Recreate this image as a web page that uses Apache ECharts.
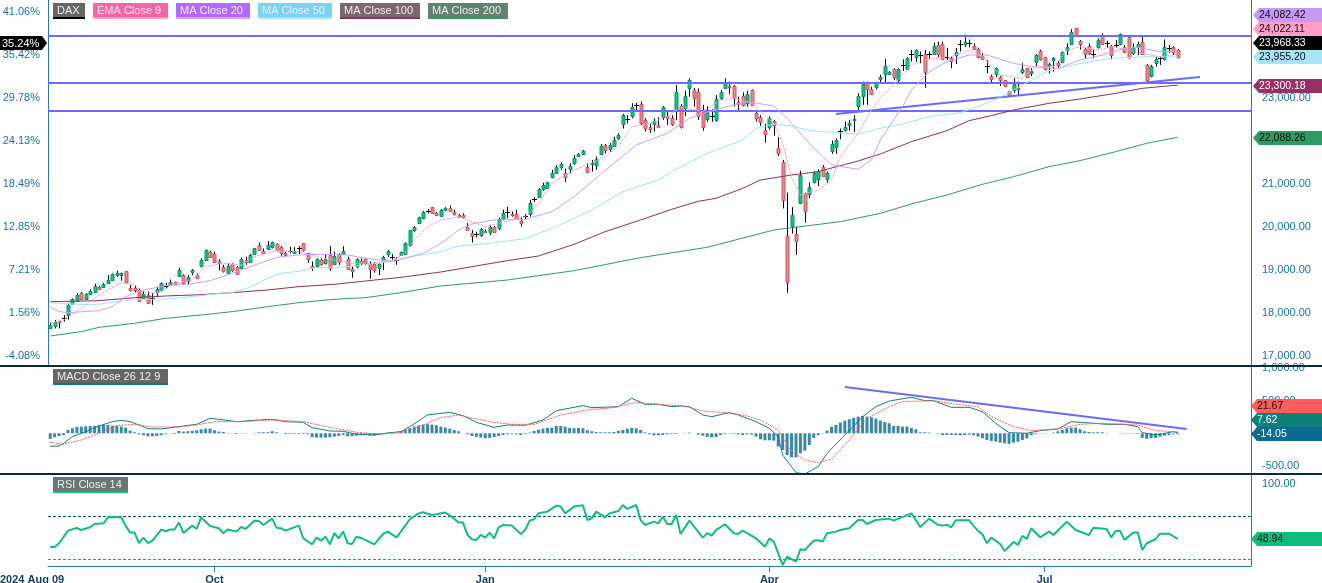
<!DOCTYPE html>
<html>
<head>
<meta charset="utf-8">
<title>DAX</title>
<style>html,body{margin:0;padding:0;background:#fff}#main{width:1322px;height:583px}</style>
<script src="https://cdn.jsdelivr.net/npm/echarts@6/dist/echarts.min.js"></script>
</head>
<body>
<div id="main"></div>
<script>
// open, close, low, high
var candles = [
[17660,17720,17640,17780],[17700,17790,17640,17840],[17810,17780,17640,17820],[17870,17880,17800,17950],[17950,18190,17850,18220],
[18220,18330,18210,18340],[18280,18420,18260,18460],[18470,18330,18320,18490],[18330,18440,18320,18460],[18440,18500,18430,18550],
[18500,18630,18480,18680],[18610,18570,18530,18630],[18610,18670,18590,18700],[18710,18770,18690,18880],[18770,18910,18750,18920],
[18880,18920,18840,18980],[18880,18920,18750,18940],[18970,18710,18700,18980],[18570,18520,18500,18650],[18570,18520,18470,18650],
[18530,18280,18260,18570],[18340,18440,18320,18500],[18420,18240,18210,18500],[18360,18350,18190,18460],[18480,18550,18380,18610],
[18520,18690,18500,18710],[18630,18620,18570,18700],[18650,18720,18630,18780],[18710,18670,18650,18730],[18860,19000,18840,19050],
[18880,18690,18670,18900],[18730,18830,18650,18880],[18950,18990,18880,19020],[18890,18820,18800,18920],[19080,19230,19060,19270],
[19230,19460,19210,19480],[19420,19310,19290,19450],[19370,19190,19160,19430],[19200,19150,18990,19250],[19080,18980,18940,19120],
[18940,19100,18920,19160],[19130,19000,18960,19160],[19080,18920,18900,19090],[19050,19250,19040,19290],[19230,19190,19120,19310],
[19190,19360,19170,19370],[19370,19500,19360,19510],[19580,19460,19450,19640],[19450,19400,19370,19500],[19490,19580,19470,19670],
[19520,19640,19500,19660],[19600,19450,19430,19620],[19530,19390,19330,19560],[19400,19350,19320,19430],[19430,19450,19390,19540],
[19400,19450,19370,19530],[19500,19510,19370,19560],[19620,19450,19430,19620],[19390,19250,19170,19400],[19090,19050,18980,19200],
[19080,19250,19060,19270],[19230,19130,19100,19270],[19150,19250,19130,19350],[19350,19040,18980,19560],[19140,19330,19120,19430],
[19370,19190,19120,19390],[19370,19430,19350,19550],[19250,19020,19000,19310],[19020,18980,18820,19080],[19080,19250,19040,19270],
[19200,19150,19120,19270],[19250,19150,19120,19270],[19140,19030,18800,19200],[19130,19000,18940,19180],[19030,19130,18880,19160],
[19220,19310,19000,19330],[19370,19450,19300,19470],[19290,19300,19220,19370],[19250,19240,19120,19300],[19360,19420,19340,19430],
[19370,19620,19350,19640],[19570,19920,19540,19930],[19920,20000,19890,20020],[20090,20230,20070,20240],[20200,20350,20180,20370],
[20370,20380,20310,20420],[20460,20330,20320,20470],[20320,20270,20260,20350],[20270,20400,20260,20420],[20400,20440,20380,20460],
[20440,20380,20360,20500],[20340,20290,20270,20400],[20270,20230,20210,20300],[20270,20230,20210,20320],[20010,19950,19930,20090],
[19870,19810,19640,19930],[19830,19840,19760,19890],[19820,19960,19770,19980],[19910,19880,19860,19940],[19890,20010,19810,20050],
[20010,19890,19880,20020],[19970,20190,19930,20220],[20190,20320,20160,20400],[20330,20340,20200,20470],[20300,20270,20240,20360],
[20300,20190,20160,20400],[20150,20100,20010,20240],[20240,20250,20180,20300],[20290,20550,20240,20630],[20640,20650,20580,20690],
[20700,20890,20690,20900],[20880,20970,20840,21030],[20910,21040,20890,21050],[21150,21250,21130,21330],[21260,21390,21230,21440],
[21380,21460,21330,21500],[21260,21170,21050,21360],[21360,21420,21250,21480],[21500,21610,21440,21670],[21660,21700,21640,21720],
[21700,21760,21670,21790],[21400,21290,21250,21480],[21460,21490,21290,21560],[21420,21570,21330,21640],[21700,21880,21670,21930],
[21900,21780,21710,21930],[21810,21900,21750,21950],[21890,22020,21870,22100],[22050,22130,22020,22180],[22380,22600,22290,22630],
[22500,22510,22410,22600],[22570,22780,22530,22880],[22820,22840,22720,22890],[22850,22410,22370,22920],[22480,22290,22220,22530],
[22320,22280,22190,22400],[22400,22460,22220,22530],[22380,22330,22300,22550],[22550,22780,22490,22810],[22570,22530,22370,22680],
[22530,22390,22350,22600],[22680,23130,22490,23300],[22820,22330,22290,22860],[22780,23050,22580,23170],[23230,23410,23030,23460],
[23180,22990,22800,23230],[23150,22600,22490,23220],[22680,22320,22240,22840],[22500,22670,22450,22800],[22560,22570,22450,22740],
[22470,22970,22450,23070],[22980,23130,22950,23190],[23240,23380,23220,23460],[23280,23250,23090,23380],[23270,22990,22800,23300],
[22910,22870,22700,23030],[23050,22830,22800,23130],[22890,23090,22800,23170],[23180,22830,22810,23200],[22660,22550,22450,22720],
[22550,22430,22350,22600],[22250,22160,21960,22400],[22320,22530,22260,22570],[22460,22370,22120,22490],[21830,21710,21650,22090],
[21520,20630,20430,21560],[19790,18730,18470,20800],[20010,20270,19850,20460],[19830,19670,19350,20010],[20550,21200,20530,21310],
[20780,20360,20100,20800],[20780,20940,20670,21040],[21050,21260,21010,21300],[21110,21300,20950,21340],[21400,21200,21190,21440],
[21130,21260,21030,21290],[21780,21940,21700,22010],[21870,22030,21700,22060],[22220,22230,22040,22290],[22250,22320,22220,22450],
[22360,22410,22240,22490],[22480,22510,22210,22600],[22810,23050,22720,23110],[23040,23330,22840,23380],[23360,23220,22840,23380],
[23220,23100,23070,23260],[23250,23340,23200,23380],[23450,23490,23340,23540],[23550,23740,23340,23910],[23570,23610,23560,23630],
[23670,23480,23420,23690],[23410,23670,23330,23690],[23750,23770,23630,23900],[23670,23920,23670,23950],[24020,24030,23850,24120],
[23950,24120,23840,24130],[24000,23990,23810,24080],[24020,23610,23240,24120],[24020,24030,23900,24080],[24020,24210,24000,24290],
[24230,24020,23950,24310],[24250,23910,23900,24310],[23960,23950,23880,24160],[23920,23840,23690,23960],[24000,24080,23790,24160],
[24250,24260,24080,24350],[24260,24300,24190,24470],[24300,24290,24180,24360],[24220,24150,24120,24270],[24140,23960,23920,24170],
[23980,23920,23900,24040],[23750,23740,23570,23880],[23510,23430,23330,23540],[23560,23690,23480,23710],[23480,23400,23280,23510],
[23410,23280,23250,23420],[23160,23040,23020,23170],[23180,23330,23120,23460],[23240,23210,23050,23380],[23610,23670,23560,23810],
[23690,23480,23460,23700],[23590,23630,23510,23690],[23850,24010,23740,24020],[24090,23900,23870,24120],[23950,23670,23640,23960],
[23750,23790,23570,23820],[23870,23920,23610,23950],[23810,23760,23690,23850],[23830,24060,23810,24080],[24120,24190,24000,24270],
[24260,24530,24230,24600],[24620,24460,24440,24620],[24330,24250,24130,24350],[24130,24020,23920,24160],[24200,24040,24000,24270],
[24020,24030,23920,24120],[24190,24350,24150,24390],[24470,24270,24250,24500],[24290,24280,24160,24330],[24220,24020,23900,24230],
[24250,24240,24160,24350],[24260,24490,24250,24500],[24190,24080,24040,24230],[24410,23950,23910,24440],[24040,24190,24000,24270],
[24180,24260,24000,24310],[24310,24020,24000,24430],[23760,23400,23360,23790],[23500,23740,23480,23770],[23820,23910,23730,23960],
[23920,23930,23770,23960],[23910,24180,23870,24360],[24150,24160,24050,24230],[24180,24060,24000,24210],[24120,23968,23920,24140]
];

// [candle number, value]
var ema9 = [[0,17760],[3,17837],[7,18108],[11,18418],[16,18705],[19,18651],[21,18496],[24,18457],[28,18690],[32,18767],[35,19077],[39,19155],[43,19116],[46,19310],[51,19449],[56,19426],[60,19310],[64,19232],[68,19155],[74,19155],[77,19209],[80,19387],[82,19697],[85,20008],[88,20163],[92,20240],[95,20124],[98,20008],[101,20085],[107,20240],[110,20550],[113,21015],[118,21326],[121,21442],[125,21636],[128,21868],[131,22333],[135,22411],[139,22566],[142,22798],[147,22682],[151,22953],[154,22992],[158,22876],[163,22411],[165,21946],[167,21170],[169,20744],[173,20860],[176,21093],[178,21636],[182,22178],[185,22721],[187,22992],[191,23419],[194,23767],[198,23922],[202,23922],[207,24116],[210,23961],[214,23535],[219,23457],[222,23729],[226,23729],[229,24116],[232,24194],[236,24116],[239,24194],[243,24116],[246,24039],[250,23961],[254,24022]];
var ma20 = [[0,18132],[2,18031],[4,18008],[11,18054],[14,18147],[17,18380],[20,18511],[26,18636],[31,18667],[36,18752],[40,18884],[45,19077],[51,19294],[56,19349],[61,19364],[67,19349],[71,19271],[77,19194],[80,19271],[84,19387],[88,19620],[92,19930],[95,20070],[100,20163],[107,20178],[113,20356],[118,20705],[122,21054],[127,21480],[132,21907],[139,22178],[144,22527],[147,22643],[152,22783],[157,22915],[163,22814],[166,22527],[171,21946],[176,21442],[182,21341],[185,21558],[187,22023],[192,22798],[194,23186],[198,23612],[202,23845],[207,23999],[211,23999],[217,23806],[221,23729],[227,23690],[232,23884],[237,23999],[242,24155],[245,24178],[250,24077],[254,24082]];
var ma50 = [[0,18240],[4,18209],[10,18193],[15,18263],[19,18318],[26,18325],[34,18403],[38,18457],[41,18473],[45,18597],[49,18806],[52,18922],[56,18969],[60,19054],[64,19054],[71,19116],[75,19194],[79,19271],[88,19426],[92,19558],[99,19620],[107,19729],[114,20008],[122,20395],[129,20822],[137,21093],[140,21287],[148,21713],[156,22023],[159,22294],[163,22395],[167,22349],[171,22240],[176,22201],[182,22163],[187,22294],[192,22395],[198,22566],[205,22659],[209,22798],[213,22969],[217,23186],[221,23419],[225,23636],[232,23806],[239,23922],[247,23961],[254,23955]];
var ma100 = [[0,18263],[11,18287],[19,18356],[26,18395],[34,18426],[41,18473],[49,18535],[56,18612],[64,18667],[71,18744],[79,18829],[88,18953],[95,19077],[103,19217],[110,19325],[118,19597],[125,19891],[133,20163],[140,20411],[146,20597],[150,20667],[156,20899],[160,21093],[167,21209],[173,21287],[178,21426],[182,21535],[187,21698],[194,21984],[202,22240],[207,22473],[212,22589],[217,22721],[225,22876],[232,22977],[240,23108],[246,23225],[254,23300]];
var ma200 = [[0,17465],[7,17566],[11,17666],[19,17760],[26,17876],[34,17953],[41,18031],[49,18147],[56,18240],[64,18318],[71,18356],[79,18473],[88,18628],[103,18767],[118,18984],[133,19287],[148,19527],[163,19930],[178,20124],[187,20318],[194,20535],[202,20744],[210,20992],[217,21170],[225,21403],[232,21543],[240,21752],[247,21946],[254,22088]];

var macdLine = [[0,-199],[2,-194],[3,-154],[5,-52],[8,25],[11,112],[14,178],[16,198],[18,178],[20,127],[22,71],[25,66],[29,102],[33,137],[36,229],[38,214],[42,178],[46,198],[50,214],[53,178],[57,168],[59,86],[63,35],[66,30],[69,-16],[73,-26],[76,5],[79,25],[81,102],[85,280],[90,321],[93,270],[96,168],[100,91],[103,127],[107,122],[111,204],[114,346],[120,423],[122,392],[128,407],[131,535],[134,443],[137,443],[140,407],[142,418],[144,407],[147,280],[149,254],[153,316],[155,280],[159,178],[162,76],[164,-52],[165,-332],[168,-602],[170,-623],[173,-510],[175,-307],[179,-26],[183,254],[186,407],[189,494],[194,550],[197,499],[199,499],[203,397],[207,397],[210,331],[213,153],[216,10],[220,0],[223,40],[227,66],[230,178],[235,153],[238,137],[242,137],[245,102],[246,10],[249,-26],[253,25],[254,8]];
var macdSignal = [[0,-138],[3,-169],[7,-103],[11,0],[15,117],[19,137],[23,96],[29,96],[33,127],[37,178],[43,178],[50,204],[57,178],[64,76],[69,15],[74,-11],[79,10],[84,127],[88,239],[92,280],[96,219],[100,168],[104,137],[109,137],[115,280],[121,356],[127,392],[132,474],[137,443],[143,413],[147,341],[152,316],[156,280],[160,204],[164,50],[167,-281],[170,-409],[173,-449],[176,-398],[180,-102],[184,229],[189,407],[192,484],[199,499],[204,443],[209,407],[212,254],[217,102],[221,40],[227,66],[232,137],[237,153],[245,127],[249,40],[254,22]];
var macdHist = [-87,-61,-41,-26,51,77,97,102,107,112,112,122,128,128,117,112,102,87,41,15,-15,-31,-46,-46,-41,-31,-10,-5,-10,36,26,31,36,46,61,71,71,46,26,20,5,-5,-10,-5,-5,0,5,15,15,15,31,15,0,-10,-10,-10,-10,-10,-15,-61,-66,-66,-66,-61,-51,-41,-26,-46,-46,-36,-26,-15,-36,-36,-26,-15,-5,-5,0,31,56,77,102,122,133,138,133,122,102,87,71,51,31,0,-15,-41,-56,-66,-77,-71,-56,-41,-26,-15,-10,-15,-26,-10,10,36,56,71,82,87,112,112,102,82,77,82,77,46,31,20,15,15,15,20,36,51,71,82,77,51,15,-15,-31,-31,-26,-15,-10,-10,0,5,10,0,-20,-36,-56,-61,-56,-26,-10,-5,-10,-15,-26,-15,-20,-51,-92,-107,-107,-112,-204,-255,-332,-367,-367,-306,-265,-179,-71,-26,5,41,102,128,163,194,214,235,255,265,255,245,224,194,173,153,112,112,102,102,82,61,15,15,10,0,-5,-26,-26,-26,-26,-31,-26,-20,-31,-51,-77,-102,-117,-128,-143,-153,-163,-143,-128,-102,-77,-31,-10,-5,-5,0,10,31,51,77,87,87,61,31,20,15,15,15,5,0,0,-5,-5,-5,-5,-10,-71,-82,-77,-71,-51,-36,-26,-15,-14];

var rsi = [[0,41.4],[1,41.4],[2,44.9],[4,56.6],[6,59.1],[7,57.2],[9,59.7],[10,62.8],[12,63.4],[13,69],[16,69],[17,61],[18,54.8],[19,54.8],[20,44.9],[21,50.1],[22,44.9],[23,47],[25,57.6],[26,56],[27,57.6],[28,57.6],[29,64.1],[30,54.5],[32,61.3],[33,58.2],[34,69],[36,61],[38,58.8],[39,54.2],[40,57.6],[42,55.7],[43,60],[44,58.2],[46,65.9],[47,65.6],[48,61.9],[50,67.8],[51,59.4],[52,58.8],[53,56.6],[56,61.3],[57,49.5],[59,43.9],[60,50.1],[61,47.3],[62,51],[63,43.9],[64,54.2],[65,49.5],[66,55.7],[67,44.9],[68,44.2],[69,51],[70,49.8],[73,43.9],[75,53.5],[76,55.7],[78,50.4],[79,55.7],[81,67.2],[83,72.7],[84,73.7],[86,71.2],[87,71.8],[89,73.4],[90,70.9],[92,64.1],[93,64.1],[94,52.6],[95,48.6],[96,48],[97,52.6],[98,50.1],[99,54.8],[100,49.5],[101,59.4],[102,61.9],[104,61.3],[106,53.5],[107,57.2],[108,65.9],[109,67.2],[110,72.7],[112,74.3],[114,79.9],[115,79],[116,72.7],[118,79],[120,80.2],[121,66.5],[122,68.1],[123,74.3],[125,69],[126,72.7],[128,74.9],[129,80.5],[130,76.8],[132,80.5],[133,66.5],[134,61.9],[136,65],[137,63.4],[138,69.6],[139,62.8],[140,62.8],[141,71.2],[142,53.5],[144,65.9],[147,50.1],[148,54.2],[149,52],[150,57.2],[152,62.5],[154,54.2],[155,53.5],[156,56.6],[159,49.5],[161,41.7],[162,49.2],[163,46.4],[165,24.7],[166,32.4],[168,27.8],[169,39.3],[170,38.6],[172,47.3],[173,47.6],[174,46.4],[175,54.2],[177,55.7],[178,57.2],[180,58.8],[182,66.5],[183,66.5],[184,62.8],[186,66.5],[189,67.8],[190,65.9],[194,72.7],[196,60],[198,67.8],[200,61.9],[201,61.3],[202,62.2],[203,59.7],[204,66.2],[207,66.2],[209,56.3],[210,53.2],[211,44.9],[212,50.1],[214,44.2],[215,37.7],[217,46.1],[218,43.3],[219,51.7],[220,48.9],[221,58.8],[223,50.4],[225,55.7],[226,52.6],[229,65],[231,57.2],[234,52.6],[235,59.4],[238,58.2],[239,50.4],[240,56.3],[241,56.6],[242,48],[244,54.8],[245,54.8],[246,38.6],[247,44.9],[249,48.6],[250,53.8],[252,53.8],[254,48.94]];

var levels = [24442, 23349, 22698];
var priceTrend = [[177,22628],[259,23488]];
var macdTrend = [[179,709],[256,67]];
var rsiBands = [70, 30];

var priceTicks = [17000,18000,19000,20000,21000,22000,23000,24000];
var pctTicks = [-4.08,1.56,7.21,12.85,18.49,24.13,29.78,35.42,41.06];
var macdTicks = [-500,0,500,1000];
var rsiTicks = [100];
var tickIndex = [37,98,162,224];
var tickNames = ['Oct','Jan','Apr','Jul'];
var firstDate = '2024 Aug 09';

var categories = [];
for (var n = 0; n < 271; n++) categories.push(n);

var labelBlue = '#1d6f9e';
var axisBlue = '#2b7ba3';
var levelBlue = '#6b6bf5';

var myChart = echarts.init(document.getElementById('main'));

function money(v) {
    return v.toLocaleString('en-US', {minimumFractionDigits: 2, maximumFractionDigits: 2});
}

// black wicks are not possible with the candlestick type, so draw it here
function renderCandle(params, api) {
    var i = api.value(0), o = api.value(1), c = api.value(2);
    var x = Math.round(api.coord([i, o])[0]) + 0.5;
    var yo = api.coord([i, o])[1], yc = api.coord([i, c])[1];
    var yl = api.coord([i, api.value(3)])[1], yh = api.coord([i, api.value(4)])[1];
    var kids = [{
        type: 'line',
        shape: {x1: x, y1: yh, x2: x, y2: yl},
        style: {stroke: '#000', lineWidth: 1}
    }];
    if (Math.abs(o - c) <= 20) {
        var my = Math.round(yc) + 0.5;
        kids.push({
            type: 'line',
            shape: {x1: x - 2.5, y1: my, x2: x + 2.5, y2: my},
            style: {stroke: '#000', lineWidth: 1}
        });
    } else {
        var up = c > o;
        kids.push({
            type: 'rect',
            shape: {x: x - 1.5, y: Math.round(Math.min(yo, yc)) + 0.5, width: 3, height: Math.max(1, Math.round(Math.abs(yo - yc)))},
            style: {fill: up ? '#14c48c' : '#e58a8a', stroke: up ? '#0b8f6a' : '#c9585c', lineWidth: 1}
        });
    }
    return {type: 'group', children: kids};
}

function tag(x, y, w, text, fill, color) {
    return [{
        type: 'polygon', z: 100,
        shape: {points: [[x, y], [x + 6, y - 7], [x + w, y - 7], [x + w, y + 7], [x + 6, y + 7]]},
        style: {fill: fill}
    }, {
        type: 'text', z: 101, x: x + 6, y: y - 6,
        style: {text: text, fill: color, font: '10.5px "Liberation Sans"', lineHeight: 13}
    }];
}

function chip(x, y, w, text, bg, bar) {
    return [{
        type: 'rect', z: 100,
        shape: {x: x, y: y, width: w, height: 14},
        style: {fill: bg}
    }, {
        type: 'rect', z: 100,
        shape: {x: x, y: y + 14, width: w, height: 2},
        style: {fill: bar}
    }, {
        type: 'text', z: 101, x: x + 4, y: y + 2,
        style: {text: text, fill: '#eee', font: '11px "Liberation Sans"'}
    }];
}

var graphics = [].concat(
    chip(53, 3, 32, 'DAX', '#666666', '#000000'),
    chip(93, 3, 75, 'EMA Close 9', '#fb62a8', '#ffa0c8'),
    chip(176, 3, 74, 'MA Close 20', '#b468ff', '#cfa4ff'),
    chip(258, 3, 74, 'MA Close 50', '#78d4f2', '#a8e6f8'),
    chip(340, 3, 80, 'MA Close 100', '#7a686e', '#8f2f5f'),
    chip(428, 3, 80, 'MA Close 200', '#64806f', '#2f9a64'),
    chip(53, 369, 115, 'MACD Close 26 12 9', '#666666', '#0a7a7a'),
    chip(53, 477, 75, 'RSI Close 14', '#66786f', '#10bd7e'),
    tag(1253, 15, 69, '24,082.42', '#c49af5', '#111'),
    tag(1253, 29, 69, '24,022.11', '#ff9ec8', '#111'),
    tag(1253, 43, 69, '23,968.33', '#000000', '#fff'),
    tag(1253, 57, 69, '23,955.20', '#a8e4f8', '#111'),
    tag(1253, 86, 69, '23,300.18', '#973063', '#fff'),
    tag(1253, 138, 69, '22,088.26', '#2f9a64', '#111'),
    tag(1251, 406, 71, '21.67', '#ff5c5c', '#111'),
    tag(1251, 420, 71, '7.62', '#0f7f7a', '#fff'),
    tag(1251, 434, 71, '-14.05', '#0a6a8f', '#fff'),
    tag(1251, 539, 71, '48.94', '#10bd7e', '#111'),
    [{
        type: 'polygon', z: 100,
        shape: {points: [[0, 36], [42, 36], [47, 43], [42, 50], [0, 50]]},
        style: {fill: '#000'}
    }, {
        type: 'text', z: 101, x: 2, y: 37,
        style: {text: '35.24%', fill: '#fff', font: '11px "Liberation Sans"', lineHeight: 13}
    }, {
        type: 'rect', z: 102,
        shape: {x: 0, y: 365, width: 1322, height: 2},
        style: {fill: '#0a2a3a'}
    }, {
        type: 'rect', z: 102,
        shape: {x: 0, y: 473, width: 1322, height: 2},
        style: {fill: '#0a2a3a'}
    }, {
        type: 'text', z: 101, x: 0, y: 574,
        style: {text: firstDate, fill: '#123f5f', font: 'bold 11px "Liberation Sans"'}
    }]
);

function priceAxis(grid, pos, min, max, ticks, fmt) {
    return {
        type: 'value', gridIndex: grid, position: pos, min: min, max: max, scale: true,
        splitLine: {show: false},
        axisLine: {show: true, onZero: false, lineStyle: {color: axisBlue}},
        axisTick: {show: false},
        axisLabel: {
            customValues: ticks, formatter: fmt, color: labelBlue,
            fontFamily: 'Liberation Sans', fontSize: 11, margin: pos == 'right' ? 11 : 8,
            padding: [4, 0, 0, 0], showMinLabel: true, showMaxLabel: true
        }
    };
}

function lineSeries(name, data, color, width, dash) {
    return {
        name: name, type: 'line', data: data, showSymbol: false, symbol: 'none',
        xAxisIndex: 0, yAxisIndex: 0, z: 5,
        lineStyle: {color: color, width: width, type: dash || 'solid'}
    };
}

var option = {
    animation: false,
    backgroundColor: '#fff',
    grid: [
        {left: 48, right: 71, top: 0, height: 366, outerBoundsMode: 'none'},
        {left: 48, right: 71, top: 367, height: 107, outerBoundsMode: 'none'},
        {left: 48, right: 71, top: 475, height: 91, outerBoundsMode: 'none'}
    ],
    xAxis: [0, 1, 2].map(function (g) {
        return {
            type: 'category', gridIndex: g, data: categories, boundaryGap: true,
            axisLine: {show: g == 2, lineStyle: {color: axisBlue}},
            axisTick: {
                show: g == 2, alignWithLabel: true, length: 6, lineStyle: {color: axisBlue},
                interval: function (i) { return tickIndex.indexOf(i) >= 0; }
            },
            axisLabel: {
                show: g == 2, color: '#123f5f', fontFamily: 'Liberation Sans', fontSize: 11, fontWeight: 'bold', margin: 8,
                interval: function (i) { return tickIndex.indexOf(i) >= 0; },
                formatter: function (v) { return tickNames[tickIndex.indexOf(Number(v))]; }
            },
            splitLine: {show: false}
        };
    }),
    yAxis: [
        priceAxis(0, 'right', 16767, 25279, priceTicks, money),
        priceAxis(0, 'left', -5.394, 42.63, pctTicks, function (v) { return v.toFixed(2) + '%'; }),
        priceAxis(1, 'right', -623, 1014, macdTicks, money),
        priceAxis(2, 'right', 23.7, 108.4, rsiTicks, money)
    ],
    series: [
        {
            name: 'DAX', type: 'custom', renderItem: renderCandle, z: 4,
            xAxisIndex: 0, yAxisIndex: 0,
            encode: {x: 0, y: [1, 2, 3, 4]},
            data: candles.map(function (c, i) { return [i, c[0], c[1], c[2], c[3]]; })
        },
        lineSeries('MA Close 200', ma200, '#2f9a64', 1),
        lineSeries('MA Close 100', ma100, '#8f2f5f', 1),
        lineSeries('MA Close 50', ma50, '#a0e4f8', 1),
        lineSeries('MA Close 20', ma20, '#c9a0ff', 1),
        {
            name: 'EMA Close 9', type: 'line', data: ema9, symbol: 'none', z: 5,
            lineStyle: {color: '#ff9ec8', width: 1, type: [3, 1]},
            markLine: {
                silent: true, symbol: 'none', animation: false, label: {show: false},
                lineStyle: {color: levelBlue, width: 2, type: 'solid'},
                data: levels.map(function (v) { return {yAxis: v}; }).concat([
                    [{coord: priceTrend[0]}, {coord: priceTrend[1]}]
                ])
            }
        },
        {
            name: 'MACD hist', type: 'bar', data: macdHist, barWidth: 3,
            xAxisIndex: 1, yAxisIndex: 2,
            itemStyle: {color: '#3a87a8'}
        },
        {
            name: 'MACD', type: 'line', data: macdLine, symbol: 'none',
            xAxisIndex: 1, yAxisIndex: 2, z: 5,
            lineStyle: {color: '#0f7f7a', width: 1}
        },
        {
            name: 'Signal', type: 'line', data: macdSignal, symbol: 'none',
            xAxisIndex: 1, yAxisIndex: 2, z: 5,
            lineStyle: {color: '#ff5c5c', width: 1, type: [2, 1]},
            markLine: {
                silent: true, symbol: 'none', animation: false, label: {show: false},
                lineStyle: {color: levelBlue, width: 2, type: 'solid'},
                data: [[{coord: macdTrend[0]}, {coord: macdTrend[1]}]]
            }
        },
        {
            name: 'RSI Close 14', type: 'line', data: rsi, symbol: 'none',
            xAxisIndex: 2, yAxisIndex: 3, z: 5,
            lineStyle: {color: '#10bd7e', width: 2},
            markLine: {
                silent: true, symbol: 'none', animation: false, label: {show: false},
                data: [
                    {yAxis: rsiBands[0], lineStyle: {color: '#0f4f78', width: 1, type: [3, 2]}},
                    {yAxis: rsiBands[1], lineStyle: {color: '#ff4040', width: 1, type: [3, 2]}}
                ]
            }
        }
    ],
    graphic: graphics
};

myChart.setOption(option);
</script>
</body>
</html>
